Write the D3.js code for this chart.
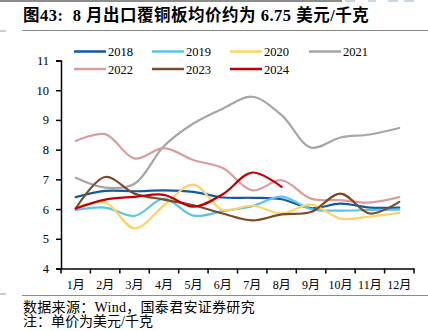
<!DOCTYPE html>
<html>
<head>
<meta charset="utf-8">
<script src="https://cdn.jsdelivr.net/npm/d3@7"></script>
<style>
  html, body { margin: 0; padding: 0; background: #fff; }
  svg { display: block; }
  text { font-family: "Liberation Serif", "Times New Roman", "Noto Sans CJK SC", serif; fill: #000; }
</style>
</head>
<body>
<svg id="chart" width="428" height="331"></svg>
<script>
// Monthly average export price of copper-clad laminate (USD/kg)
const months = ["1月","2月","3月","4月","5月","6月","7月","8月","9月","10月","11月","12月"];
const yTicks = [4, 5, 6, 7, 8, 9, 10, 11];

const s2018 = [6.40, 6.61, 6.60, 6.63, 6.58, 6.39, 6.38, 6.33, 6.03, 6.18, 6.05, 6.05];
const s2019 = [5.97, 6.05, 5.77, 6.35, 5.78, 5.93, 6.10, 6.42, 6.00, 5.95, 5.97, 5.98];
const s2020 = [6.05, 6.22, 5.35, 6.12, 6.82, 5.97, 6.12, 5.85, 6.15, 5.68, 5.75, 5.87];
const s2021 = [7.05, 6.72, 6.85, 8.12, 8.88, 9.38, 9.78, 9.16, 8.07, 8.41, 8.51, 8.73];
const s2022 = [8.29, 8.52, 7.70, 8.05, 7.65, 7.38, 6.63, 6.97, 6.35, 6.30, 6.22, 6.40];
const s2023 = [6.02, 7.08, 6.52, 6.32, 6.13, 5.85, 5.62, 5.82, 5.90, 6.52, 5.85, 6.24];
const s2024 = [6.02, 6.32, 6.41, 6.48, 6.08, 6.50, 7.23, 6.75];

const series = [
  { name: "2018", values: s2018, color: "#0f5aa8", width: 2.2 },
  { name: "2019", values: s2019, color: "#5bc3ec", width: 2.2 },
  { name: "2020", values: s2020, color: "#ffd35f", width: 2.2 },
  { name: "2021", values: s2021, color: "#a6a6a6", width: 2.2 },
  { name: "2022", values: s2022, color: "#dc9c9c", width: 2.2 },
  { name: "2023", values: s2023, color: "#7b4b2a", width: 2.2 },
  { name: "2024", values: s2024, color: "#c00000", width: 2.2 }
];

const svg = d3.select("#chart");

// Header decorations and title
svg.append("line").attr("x1", 0).attr("x2", 342).attr("y1", 1).attr("y2", 1)
  .attr("stroke", "#8c8c8c").attr("stroke-width", 2);
[[345, 355], [368, 376], [388, 398], [404, 414]].forEach(([a, b]) => {
  svg.append("line").attr("x1", a).attr("x2", b).attr("y1", 1).attr("y2", 1)
    .attr("stroke", "#b9c9e0").attr("stroke-width", 1.5);
});
svg.append("text").attr("x", 23).attr("y", 21)
  .attr("font-size", 16.5).attr("font-weight", "bold")
  .style("letter-spacing", "0.5px").style("white-space", "pre")
  .text("图43:  8 月出口覆铜板均价约为 6.75 美元/千克");
svg.append("line").attr("x1", 22).attr("x2", 428).attr("y1", 30.5).attr("y2", 30.5)
  .attr("stroke", "#8c8c8c").attr("stroke-width", 1.2);
svg.append("line").attr("x1", 0).attr("x2", 6).attr("y1", 31).attr("y2", 31)
  .attr("stroke", "#9a9a9a").attr("stroke-width", 1);

// Scales
const x = d3.scaleBand().domain(months).range([61, 414]).padding(0);
const y = d3.scaleLinear().domain([4, 11]).range([268.5, 60.5]);

// Axes
const yAxis = d3.axisLeft(y).tickValues(yTicks).tickSize(5).tickFormat(d3.format("d"));
const gy = svg.append("g").attr("transform", "translate(61,0)").call(yAxis);
gy.select(".domain").attr("stroke", "#000").attr("stroke-width", 1.5);
gy.selectAll(".tick line").attr("stroke", "#000").attr("stroke-width", 1.5);
gy.selectAll(".tick text").attr("font-size", 12.5).attr("x", -12)
  .style("font-family", "'Liberation Serif', serif");

const xAxis = d3.axisBottom(x).tickSize(0).tickSizeOuter(0);
const gx = svg.append("g").attr("transform", "translate(0,268.5)").call(xAxis);
gx.select(".domain").attr("stroke", "#000").attr("stroke-width", 1.5);
gx.selectAll(".tick text").attr("font-size", 12).attr("dy", 0).attr("y", 20)
  .style("font-family", "'Liberation Serif', 'Noto Sans CJK SC', serif");
// Category boundary ticks
const bounds = months.map(m => x(m)).concat([x.range()[1]]);
gx.selectAll("line.bound").data(bounds).enter().append("line")
  .attr("class", "bound")
  .attr("x1", d => d).attr("x2", d => d).attr("y1", 0).attr("y2", 5)
  .attr("stroke", "#000").attr("stroke-width", 1.5);

// Smoothed series lines
const line = d3.line()
  .x((d, i) => x(months[i]) + x.bandwidth() / 2)
  .y(d => y(d))
  .curve(d3.curveCatmullRom.alpha(0.5));

svg.append("g").selectAll("path").data(series).enter().append("path")
  .attr("d", d => line(d.values))
  .attr("fill", "none")
  .attr("stroke", d => d.color)
  .attr("stroke-width", d => d.width)
  .attr("stroke-linecap", "round");

// Legend
const legendPos = [
  [74, 51.5], [152, 51.5], [230, 51.5], [309, 51.5],
  [74, 69], [152, 69], [230, 69]
];
const lg = svg.append("g").selectAll("g").data(series).enter().append("g")
  .attr("transform", (d, i) => `translate(${legendPos[i][0]},${legendPos[i][1]})`);
lg.append("line").attr("x1", 0).attr("x2", 32).attr("y1", 0).attr("y2", 0)
  .attr("stroke", d => d.color).attr("stroke-width", 2.5);
lg.append("text").attr("x", 34).attr("y", 4.5).attr("font-size", 12.5).text(d => d.name);

// Footer
svg.append("line").attr("x1", 22).attr("x2", 428).attr("y1", 295.5).attr("y2", 295.5)
  .attr("stroke", "#8c8c8c").attr("stroke-width", 1.2);
svg.append("line").attr("x1", 0).attr("x2", 6).attr("y1", 294).attr("y2", 294)
  .attr("stroke", "#9a9a9a").attr("stroke-width", 1);
svg.append("text").attr("x", 23).attr("y", 311.5).attr("font-size", 14)
  .style("letter-spacing", "0.3px")
  .text("数据来源：Wind，国泰君安证券研究");
svg.append("text").attr("x", 23).attr("y", 326).attr("font-size", 14)
  .text("注：单价为美元/千克");
</script>
</body>
</html>
